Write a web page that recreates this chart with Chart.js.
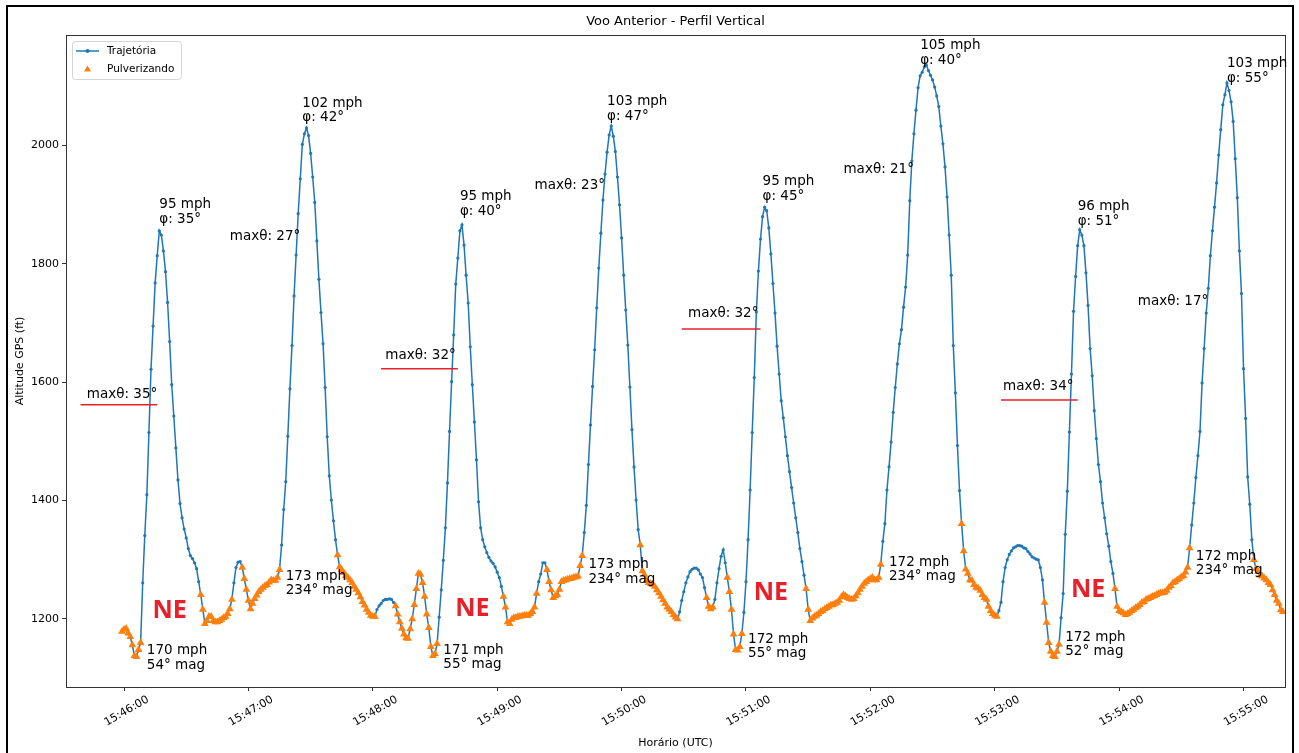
<!DOCTYPE html>
<html>
<head>
<meta charset="utf-8">
<title>Voo Anterior - Perfil Vertical</title>
<script src="https://cdn.jsdelivr.net/npm/chart.js@4.4.1/dist/chart.umd.min.js"></script>
<style>
  html, body { margin: 0; padding: 0; background: #fff; }
  #wrap { position: relative; width: 1299px; height: 753px; }
</style>
</head>
<body>
<div id="wrap"><canvas id="chart" width="1299" height="753"></canvas></div>
<script>
'use strict';

// ---- data ----
const startTime = '15:45:59';   // first GPS sample
const sampleStep = 1;           // seconds between samples
const altitude = [
  1179, 1182, 1184, 1176, 1170, 1156, 1138, 1136, 1148, 1160,
  1261, 1341, 1410, 1515, 1622, 1695, 1768, 1814, 1856, 1849,
  1822, 1787, 1735, 1669, 1596, 1543, 1489, 1435, 1395, 1371,
  1352, 1337, 1319, 1307, 1302, 1295, 1285, 1263, 1241, 1216,
  1192, 1197, 1204, 1204, 1197, 1195, 1195, 1197, 1199, 1202,
  1204, 1209, 1217, 1233, 1261, 1287, 1296, 1297, 1287, 1268,
  1250, 1231, 1217, 1226, 1234, 1240, 1246, 1250, 1253, 1256,
  1258, 1262, 1266, 1265, 1265, 1270, 1283, 1325, 1385, 1432,
  1509, 1589, 1662, 1746, 1815, 1885, 1944, 2002, 2020, 2030,
  2017, 1987, 1947, 1904, 1839, 1774, 1718, 1665, 1591, 1508,
  1442, 1401, 1366, 1334, 1308, 1288, 1283, 1278, 1273, 1270,
  1266, 1261, 1255, 1250, 1244, 1237, 1229, 1223, 1216, 1211,
  1206, 1204, 1204, 1216, 1222, 1226, 1231, 1233, 1233, 1234,
  1233, 1228, 1222, 1208, 1195, 1184, 1174, 1168, 1167, 1183,
  1200, 1224, 1251, 1277, 1275, 1261, 1238, 1208, 1185, 1153,
  1138, 1141, 1158, 1203, 1249, 1299, 1354, 1430, 1517, 1601,
  1680, 1766, 1810, 1856, 1866, 1832, 1781, 1734, 1660, 1596,
  1533, 1469, 1398, 1354, 1334, 1322, 1312, 1304, 1298, 1294,
  1288, 1279, 1270, 1255, 1238, 1220, 1195, 1192, 1199, 1202,
  1202, 1204, 1204, 1205, 1206, 1206, 1206, 1209, 1212, 1220,
  1243, 1263, 1276, 1295, 1295, 1283, 1263, 1249, 1236, 1239,
  1241, 1250, 1263, 1265, 1266, 1267, 1268, 1269, 1270, 1271,
  1272, 1290, 1307, 1346, 1392, 1461, 1528, 1593, 1655, 1726,
  1793, 1852, 1908, 1952, 1989, 2018, 2033, 2016, 1990, 1947,
  1900, 1844, 1781, 1722, 1663, 1592, 1520, 1457, 1401, 1351,
  1325, 1281, 1275, 1265, 1261, 1260, 1258, 1255, 1249, 1244,
  1238, 1232, 1226, 1220, 1216, 1212, 1207, 1203, 1200, 1212,
  1231, 1246, 1261, 1271, 1280, 1284, 1286, 1286, 1283, 1276,
  1270, 1253, 1236, 1221, 1217, 1220, 1233, 1261, 1285, 1306,
  1317, 1295, 1270, 1246, 1216, 1174, 1148, 1147, 1153, 1175,
  1211, 1263, 1334, 1418, 1515, 1608, 1719, 1788, 1842, 1880,
  1896, 1890, 1861, 1817, 1767, 1717, 1661, 1614, 1569, 1540,
  1508, 1476, 1449, 1422, 1396, 1371, 1346, 1319, 1297, 1274,
  1251, 1216, 1197, 1201, 1204, 1206, 1209, 1212, 1214, 1217,
  1219, 1221, 1223, 1224, 1226, 1228, 1231, 1237, 1241, 1239,
  1236, 1234, 1233, 1234, 1239, 1244, 1250, 1255, 1260, 1263,
  1266, 1268, 1270, 1266, 1266, 1270, 1292, 1331, 1361, 1418,
  1457, 1499, 1549, 1591, 1631, 1665, 1689, 1727, 1761, 1815,
  1907, 1974, 2020, 2060, 2098, 2118, 2124, 2133, 2136, 2127,
  2119, 2111, 2099, 2084, 2066, 2033, 2003, 1964, 1913, 1849,
  1781, 1662, 1582, 1493, 1417, 1361, 1315, 1284, 1277, 1266,
  1265, 1258, 1253, 1252, 1248, 1241, 1236, 1233, 1221, 1214,
  1209, 1206, 1204, 1214, 1228, 1263, 1287, 1300, 1309, 1315,
  1320, 1322, 1324, 1324, 1323, 1320, 1319, 1314, 1310, 1305,
  1303, 1301, 1300, 1287, 1266, 1228, 1194, 1160, 1145, 1138,
  1136, 1145, 1157, 1202, 1243, 1343, 1416, 1516, 1614, 1720,
  1779, 1831, 1858, 1849, 1831, 1785, 1730, 1657, 1611, 1552,
  1505, 1461, 1432, 1396, 1371, 1344, 1323, 1297, 1277, 1251,
  1221, 1214, 1212, 1210, 1207, 1209, 1211, 1214, 1216, 1219,
  1221, 1224, 1228, 1229, 1233, 1234, 1236, 1238, 1239, 1241,
  1243, 1244, 1244, 1245, 1248, 1253, 1256, 1261, 1263, 1266,
  1268, 1271, 1273, 1279, 1287, 1320, 1359, 1396, 1439, 1476,
  1517, 1599, 1657, 1717, 1759, 1814, 1856, 1896, 1937, 1984,
  2027, 2069, 2086, 2106, 2093, 2074, 2041, 1978, 1912, 1822,
  1750, 1623, 1539, 1440, 1394, 1334, 1300, 1285, 1280, 1274,
  1272, 1269, 1266, 1261, 1258, 1249, 1241, 1231, 1226, 1215,
  1212
];

// spraying (Pulverizando) intervals, inclusive
const sprayRuns = [
  ['15:45:59', '15:46:08'], ['15:46:37', '15:46:52'], ['15:46:57', '15:47:15'],
  ['15:47:43', '15:48:01'], ['15:48:11', '15:48:31'], ['15:49:03', '15:49:19'],
  ['15:49:24', '15:49:41'], ['15:50:09', '15:50:27'], ['15:50:41', '15:50:44'],
  ['15:50:51', '15:50:58'], ['15:51:29', '15:52:05'], ['15:52:44', '15:53:01'],
  ['15:53:24', '15:53:31'], ['15:53:58', '15:54:34'], ['15:55:05', '15:55:19']
];

// axes
const xRange = ['15:45:32', '15:55:20'];
const xTickLabels = ['15:46:00', '15:47:00', '15:48:00', '15:49:00', '15:50:00',
                     '15:51:00', '15:52:00', '15:53:00', '15:54:00', '15:55:00'];
const yRange = [1085, 2187];
const yTicks = [1200, 1400, 1600, 1800, 2000];

// pull-up annotations (top of each pass)
const peakSpeed = ['95 mph', '102 mph', '95 mph', '103 mph', '95 mph', '105 mph', '96 mph', '103 mph'];
const peakBank = ['φ: 35°', 'φ: 42°', 'φ: 40°', 'φ: 47°', 'φ: 45°', 'φ: 40°', 'φ: 51°', 'φ: 55°'];
const peakAt = [['15:46:17', 1900], ['15:47:26', 2072], ['15:48:42', 1914], ['15:49:53', 2074],
                ['15:51:08', 1939], ['15:52:24', 2169], ['15:53:40', 1897], ['15:54:52', 2138]];

// max pitch during climb
const maxPitch = [35, 27, 32, 23, 32, 21, 34, 17];
const pitchAt = [['15:46:16', 1580], ['15:47:25', 1846], ['15:48:40', 1646], ['15:49:52', 1932],
                 ['15:51:06', 1716], ['15:52:21', 1959], ['15:53:38', 1593], ['15:54:43', 1736]];
// red marks under some of the pitch labels
const redMarks = [['15:45:39', '15:46:16', 1562], ['15:48:04', '15:48:41', 1623],
                  ['15:50:29', '15:51:07', 1690], ['15:53:03', '15:53:40', 1570]];

// end-of-pass annotations
const exitSpeed = ['170 mph', '173 mph', '171 mph', '173 mph', '172 mph', '172 mph', '172 mph', '172 mph'];
const exitHeading = ['54° mag', '234° mag', '55° mag', '234° mag', '55° mag', '234° mag', '52° mag', '234° mag'];
const exitAt = [['15:46:11', 1146], ['15:47:18', 1272], ['15:48:34', 1147], ['15:49:44', 1292],
                ['15:51:01', 1166], ['15:52:09', 1296], ['15:53:34', 1169], ['15:54:37', 1306]];

// NE heading marks
const neAt = [['15:46:22', 1214], ['15:48:48', 1217], ['15:51:12', 1244], ['15:53:45', 1250]];

// ---- helpers ----
const BLUE = '#1f77b4';
const ORANGE = '#ff7f0e';
const RED = '#e8202a';
const FONT = '"DejaVu Sans", sans-serif';

function toSec(s){
    const p = s.split(':').map(Number);
    return p[0]*3600 + p[1]*60 + p[2];
}
function hms(v){
    v = Math.round(v);
    const h = Math.floor(v/3600), m = Math.floor(v%3600/60), s = v%60;
    return [h, m, s].map(n => String(n).padStart(2, '0')).join(':');
}

const t0 = toSec(startTime);
const track = altitude.map((a, i) => ({x: t0 + i*sampleStep, y: a}));
const runs = sprayRuns.map(r => r.map(toSec));
const spray = track.filter(p => runs.some(r => p.x >= r[0] && p.x <= r[1]));

// everything matplotlib drew around the axes
const decorations = {
    id: 'decorations',
    beforeDraw(chart){
        const ctx = chart.ctx;
        ctx.save();
        ctx.fillStyle = '#fff';
        ctx.fillRect(0, 0, chart.width, chart.height);
        ctx.strokeStyle = '#000';
        ctx.lineWidth = 2;
        ctx.strokeRect(7, 6, 1286, 800);
        ctx.restore();
    },
    afterDraw(chart){
        const ctx = chart.ctx;
        const area = chart.chartArea;
        const xs = chart.scales.x, ys = chart.scales.y;
        const pt = (time, alt) => [xs.getPixelForValue(toSec(time)), ys.getPixelForValue(alt)];
        ctx.save();

        // spines
        ctx.strokeStyle = '#333';
        ctx.lineWidth = 1;
        ctx.strokeRect(Math.round(area.left) + 0.5, Math.round(area.top) + 0.5,
                       Math.round(area.right - area.left), Math.round(area.bottom - area.top));

        // title and axis titles
        ctx.fillStyle = '#000';
        ctx.font = '13px ' + FONT;
        ctx.textAlign = 'center';
        ctx.textBaseline = 'middle';
        ctx.fillText('Voo Anterior - Perfil Vertical', (area.left + area.right)/2, 22);
        ctx.font = '11px ' + FONT;
        ctx.fillText('Horário (UTC)', (area.left + area.right)/2, 743);
        ctx.save();
        ctx.translate(20, (area.top + area.bottom)/2);
        ctx.rotate(-Math.PI/2);
        ctx.fillText('Altitude GPS (ft)', 0, 0);
        ctx.restore();

        // legend
        const lx = area.left + 6, ly = area.top + 6;
        ctx.beginPath();
        ctx.roundRect(lx + 0.5, ly + 0.5, 109, 38, 3);
        ctx.fillStyle = 'rgba(255,255,255,0.8)';
        ctx.fill();
        ctx.strokeStyle = '#d5d5d5';
        ctx.stroke();
        ctx.strokeStyle = BLUE;
        ctx.lineWidth = 1.5;
        ctx.beginPath();
        ctx.moveTo(lx + 4, ly + 10);
        ctx.lineTo(lx + 27, ly + 10);
        ctx.stroke();
        ctx.fillStyle = BLUE;
        ctx.beginPath();
        ctx.arc(lx + 15.5, ly + 10, 2, 0, Math.PI*2);
        ctx.fill();
        ctx.fillStyle = ORANGE;
        ctx.beginPath();
        ctx.moveTo(lx + 15.5, ly + 24.5);
        ctx.lineTo(lx + 19, ly + 30.5);
        ctx.lineTo(lx + 12, ly + 30.5);
        ctx.closePath();
        ctx.fill();
        ctx.fillStyle = '#000';
        ctx.font = '10.5px ' + FONT;
        ctx.textAlign = 'left';
        ctx.fillText('Trajetória', lx + 35, ly + 10);
        ctx.fillText('Pulverizando', lx + 35, ly + 28);

        // pull-up labels
        ctx.font = '13.5px ' + FONT;
        ctx.textAlign = 'left';
        peakAt.forEach((a, i) => {
            const [px, py] = pt(a[0], a[1]);
            ctx.fillText(peakSpeed[i], px, py);
            ctx.fillText(peakBank[i], px, py + 14.5);
        });

        // pitch labels
        ctx.textAlign = 'right';
        pitchAt.forEach((a, i) => {
            const [px, py] = pt(a[0], a[1]);
            ctx.fillText('maxθ: ' + maxPitch[i] + '°', px, py);
        });
        ctx.strokeStyle = RED;
        ctx.lineWidth = 1.5;
        redMarks.forEach(r => {
            const [x1, yy] = pt(r[0], r[2]);
            const [x2] = pt(r[1], r[2]);
            ctx.beginPath();
            ctx.moveTo(x1, yy);
            ctx.lineTo(x2, yy);
            ctx.stroke();
        });

        // end-of-pass labels
        ctx.textAlign = 'left';
        exitAt.forEach((a, i) => {
            const [px, py] = pt(a[0], a[1]);
            ctx.fillText(exitSpeed[i], px, py);
            ctx.fillText(exitHeading[i], px, py + 14.5);
        });

        // NE marks
        ctx.fillStyle = RED;
        ctx.font = 'bold 25px "Open Sans", ' + FONT;
        ctx.textAlign = 'center';
        neAt.forEach(a => {
            const [px, py] = pt(a[0], a[1]);
            ctx.fillText('NE', px, py);
        });
        ctx.restore();
    }
};

new Chart(document.getElementById('chart'), {
    type: 'line',
    data: {
        datasets: [
            {
                label: 'Pulverizando',
                data: spray,
                showLine: false,
                pointStyle: 'triangle',
                pointRadius: 4.5,
                pointBackgroundColor: ORANGE,
                pointBorderColor: ORANGE,
                pointBorderWidth: 0,
                order: 0
            },
            {
                label: 'Trajetória',
                data: track,
                borderColor: BLUE,
                borderWidth: 1.5,
                pointRadius: 1.6,
                pointBackgroundColor: BLUE,
                pointBorderWidth: 0,
                tension: 0,
                order: 1
            }
        ]
    },
    options: {
        responsive: false,
        devicePixelRatio: 1,
        animation: false,
        events: [],
        layout: {padding: {left: 0, top: 35, right: 14, bottom: 0}},
        plugins: {legend: {display: false}, tooltip: {enabled: false}, title: {display: false}},
        scales: {
            x: {
                type: 'linear',
                min: toSec(xRange[0]),
                max: toSec(xRange[1]),
                afterBuildTicks: s => { s.ticks = xTickLabels.map(l => ({value: toSec(l)})); },
                afterFit: s => { s.height = 66; },
                grid: {drawOnChartArea: false, drawTicks: true, tickLength: 4, color: '#333'},
                border: {display: false},
                ticks: {
                    callback: v => hms(v),
                    minRotation: 30,
                    maxRotation: 30,
                    autoSkip: false,
                    labelOffset: 24,
                    padding: 2,
                    color: '#000',
                    font: {family: FONT, size: 11}
                }
            },
            y: {
                type: 'linear',
                min: yRange[0],
                max: yRange[1],
                afterBuildTicks: s => { s.ticks = yTicks.map(v => ({value: v})); },
                afterFit: s => { s.width = 66; },
                grid: {drawOnChartArea: false, drawTicks: true, tickLength: 4, color: '#333'},
                border: {display: false},
                ticks: {
                    callback: v => String(v),
                    padding: 3,
                    color: '#000',
                    font: {family: FONT, size: 11}
                }
            }
        }
    },
    plugins: [decorations]
});
</script>
</body>
</html>
